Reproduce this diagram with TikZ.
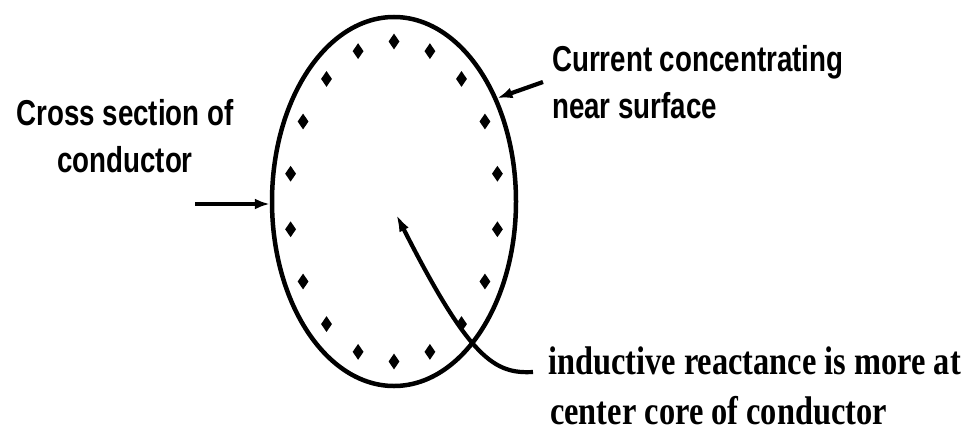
\documentclass[tikz,border=0pt]{standalone}
\usepackage{fontspec}
\setmainfont{Liberation Serif}
\setsansfont{Liberation Sans}
\usepackage{graphicx}
\usetikzlibrary{shapes.geometric,arrows.meta}

\newcommand{\narrowsans}[1]{\scalebox{0.77}[1]{#1}}
\newcommand{\narrowserif}[1]{\scalebox{0.81}[1]{#1}}

\begin{document}
\begin{tikzpicture}[x=1pt, y=-1pt,
    pointer/.style={line width=4.2pt, -{Latex[length=15pt,width=11pt]}},
    spot/.style={diamond, fill=black, inner sep=0pt, minimum width=11pt, minimum height=16pt},
    tag/.style={font=\sffamily\bfseries\fontsize{36}{47}\selectfont, inner sep=0pt},
    note/.style={font=\bfseries\fontsize{40}{50}\selectfont, inner sep=0pt}]
    \useasboundingbox (0,0) rectangle (974,431);

    % Conductor cross section
    \node[ellipse, draw, line width=4.5pt, minimum width=244pt, minimum height=369pt, inner sep=0pt] (cond) at (394,201.5) {};

    % Current near the surface
    \foreach \a in {10,30,...,350}
        \node[spot] (d\a) at ([shift={(\a:105 and 160)}]cond.center) {};

    % Labels
    \node[tag, align=center, anchor=base] (xsec) at (125,172) {\narrowsans{Cross section of}\\\narrowsans{conductor}};
    \node[tag, align=left, anchor=base west] (surf) at (552,118) {\narrowsans{Current concentrating}\\\narrowsans{near surface}};
    \node[note, align=left, anchor=base west] (react) at (548,424) {\narrowserif{inductive reactance is more at}\\\hspace{2pt}\narrowserif{center core of conductor}};

    % Pointers
    \coordinate (lefttail) at (195,204);
    \draw[pointer] (lefttail) -- (lefttail -| cond.west);
    \coordinate (righttail) at (543,82);
    \draw[pointer] (righttail) -- (cond.45);
    \coordinate (core) at (395,212);
    \coordinate (notetail) at (533,372);
    \draw[pointer, -{Latex[length=20pt,width=10pt]}] (notetail) .. controls (495,374) and (470,360) .. (core);
\end{tikzpicture}
\end{document}
